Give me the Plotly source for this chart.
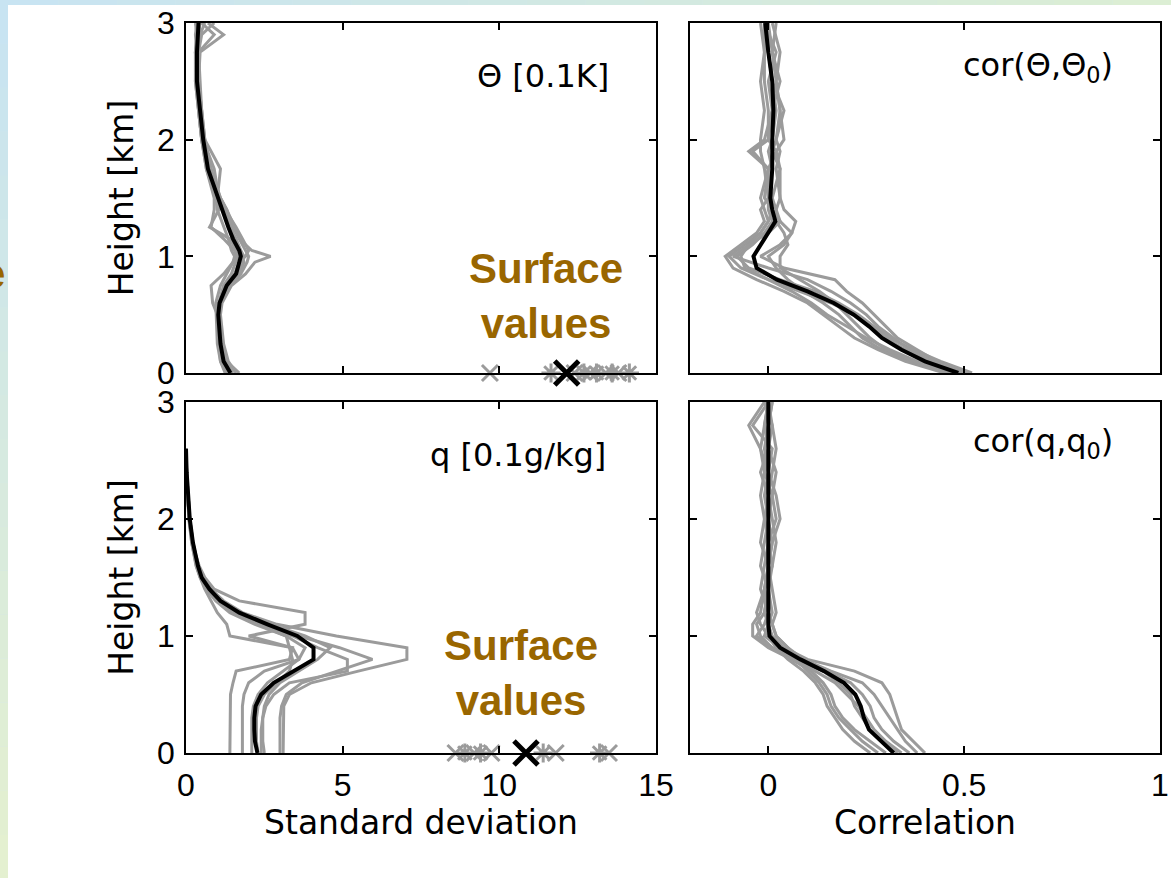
import plotly.graph_objects as go

# ---------------- data ----------------
# Theta standard deviation profiles [0.1 K]
h_th = [0, 0.1, 0.25, 0.5, 0.6, 0.75, 0.85, 0.95, 1.0, 1.05, 1.15, 1.25, 1.4, 1.5, 1.75, 2.0, 2.25, 2.5, 2.75, 2.9, 3.0]
th_mean = [1.42, 1.2, 1.1, 1.03, 1.07, 1.3, 1.6, 1.72, 1.75, 1.7, 1.5, 1.35, 1.15, 1.0, 0.7, 0.55, 0.45, 0.35, 0.35, 0.38, 0.4]
th_members = [
    [1.6, 1.35, 1.2, 1.1, 1.15, 1.45, 1.9, 2.2, 2.7, 2.1, 1.7, 1.5, 1.3, 1.1, 0.8, 0.6, 0.5, 0.45, 0.4, 0.9, 0.5],
    [1.3, 1.1, 1.0, 0.95, 0.95, 1.1, 1.3, 1.5, 1.6, 1.55, 1.2, 0.8, 0.9, 0.9, 0.65, 0.5, 0.4, 0.3, 0.3, 0.35, 0.35],
    [1.5, 1.25, 1.15, 1.05, 1.1, 1.4, 1.75, 1.95, 2.0, 1.9, 1.7, 1.55, 1.3, 1.1, 0.75, 0.6, 0.5, 0.4, 0.45, 1.2, 0.7],
    [1.25, 1.1, 1.05, 1.0, 0.85, 0.8, 1.2, 1.5, 1.55, 1.45, 1.35, 1.2, 1.0, 0.95, 0.8, 0.55, 0.45, 0.35, 0.3, 0.35, 0.3],
    [1.45, 1.25, 1.1, 1.05, 1.1, 1.35, 1.7, 1.85, 1.8, 1.7, 1.55, 1.45, 1.25, 1.05, 0.7, 0.5, 0.4, 0.3, 0.35, 0.3, 0.35],
    [1.35, 1.15, 1.05, 1.0, 1.05, 1.25, 1.55, 1.7, 1.9, 2.0, 1.8, 1.6, 1.25, 1.0, 1.1, 0.6, 0.45, 0.35, 0.4, 0.5, 0.9],
    [1.7, 1.3, 1.15, 1.05, 1.05, 1.2, 1.45, 1.6, 1.65, 1.6, 1.4, 0.75, 1.05, 0.95, 0.65, 0.5, 0.4, 0.35, 0.3, 0.4, 0.45],
    [1.4, 1.2, 1.1, 1.02, 1.08, 1.3, 1.65, 1.8, 1.85, 1.75, 1.6, 1.4, 1.2, 1.05, 0.9, 0.55, 0.5, 0.4, 0.35, 0.45, 0.6],
]
th_surf_members = [9.7, 11.65, 12.4, 12.7, 12.9, 13.1, 13.4, 13.6, 13.8, 14.15]
th_surf_mean = [12.15]

# q standard deviation profiles [0.1 g/kg]
h_q = [0, 0.1, 0.2, 0.3, 0.4, 0.5, 0.6, 0.7, 0.8, 0.9, 1.0, 1.1, 1.2, 1.3, 1.4, 1.5, 1.6, 1.7, 1.8, 2.0, 2.2, 2.4, 2.6]
q_mean = [2.28, 2.2, 2.18, 2.18, 2.22, 2.4, 2.8, 3.45, 4.07, 4.07, 3.55, 2.6, 1.7, 1.1, 0.75, 0.5, 0.38, 0.3, 0.22, 0.12, 0.06, 0.02, 0.0]
q_members = [
    [3.1, 3.1, 3.1, 3.1, 3.12, 3.3, 4.0, 5.5, 7.05, 7.05, 4.8, 2.9, 1.8, 1.2, 0.8, 0.55, 0.4, 0.3, 0.22, 0.12, 0.06, 0.02, 0.0],
    [3.0, 3.0, 3.0, 3.0, 3.05, 3.2, 3.7, 4.8, 5.95, 4.9, 3.6, 2.5, 1.6, 1.05, 0.7, 0.5, 0.38, 0.28, 0.2, 0.1, 0.05, 0.02, 0.0],
    [2.4, 2.4, 2.4, 2.45, 2.55, 2.8, 3.3, 5.15, 5.15, 4.2, 3.4, 2.4, 1.5, 1.0, 0.7, 0.5, 0.35, 0.28, 0.2, 0.1, 0.05, 0.02, 0.0],
    [1.4, 1.4, 1.4, 1.4, 1.4, 1.42, 1.5, 1.6, 3.3, 3.4, 1.4, 1.3, 1.0, 0.8, 0.6, 0.45, 0.32, 0.25, 0.18, 0.1, 0.05, 0.02, 0.0],
    [1.8, 1.8, 1.8, 1.8, 1.8, 1.85, 2.0, 2.5, 3.6, 3.8, 3.2, 2.3, 1.5, 1.0, 0.7, 0.5, 0.35, 0.27, 0.2, 0.1, 0.05, 0.02, 0.0],
    [2.1, 2.1, 2.1, 2.1, 2.15, 2.3, 2.6, 3.1, 3.6, 3.4, 2.0, 3.8, 3.8, 1.7, 0.9, 0.6, 0.42, 0.3, 0.22, 0.12, 0.06, 0.02, 0.0],
    [2.5, 2.45, 2.45, 2.45, 2.5, 2.65, 3.0, 3.6, 4.2, 4.6, 3.8, 2.7, 1.75, 1.15, 0.8, 0.55, 0.4, 0.3, 0.22, 0.12, 0.06, 0.02, 0.0],
    [2.3, 2.25, 2.25, 2.25, 2.3, 2.5, 2.9, 3.3, 3.4, 3.3, 3.2, 2.2, 1.4, 0.95, 0.65, 0.45, 0.33, 0.26, 0.18, 0.09, 0.04, 0.01, 0.0],
]
q_surf_members = [8.6, 8.9, 9.2, 9.4, 9.75, 11.4, 11.8, 13.2, 13.5]
q_surf_mean = [10.85]

# correlation with surface Theta
h_cth = [0, 0.1, 0.2, 0.3, 0.4, 0.5, 0.6, 0.7, 0.8, 0.9, 1.0, 1.1, 1.2, 1.3, 1.4, 1.5, 1.75, 1.9, 2.0, 2.25, 2.5, 2.75, 3.0]
cth_mean = [0.485, 0.4, 0.34, 0.29, 0.257, 0.218, 0.167, 0.1, 0.022, -0.03, -0.038, -0.02, 0.0, 0.018, 0.01, 0.005, 0.01, 0.01, 0.01, 0.013, 0.01, 0.0, -0.008]
cth_members = [
    [0.50, 0.43, 0.38, 0.33, 0.30, 0.27, 0.24, 0.20, 0.17, 0.04, -0.02, 0.03, 0.06, 0.07, 0.04, 0.03, 0.02, 0.03, 0.02, 0.03, 0.02, 0.01, 0.0],
    [0.47, 0.38, 0.31, 0.25, 0.20, 0.15, 0.11, 0.06, 0.0, -0.07, -0.10, -0.06, -0.02, 0.0, -0.01, -0.02, 0.0, -0.04, 0.0, 0.0, -0.01, -0.01, -0.02],
    [0.52, 0.44, 0.37, 0.31, 0.27, 0.23, 0.18, 0.12, 0.03, -0.05, -0.08, -0.04, -0.01, 0.01, 0.0, 0.0, 0.01, 0.0, 0.01, 0.02, 0.01, 0.0, -0.01],
    [0.46, 0.36, 0.29, 0.24, 0.21, 0.18, 0.14, 0.09, 0.05, 0.02, 0.0, 0.04, 0.06, 0.03, 0.02, 0.01, 0.03, 0.02, 0.04, 0.03, 0.02, 0.03, 0.01],
    [0.49, 0.41, 0.35, 0.30, 0.26, 0.22, 0.16, 0.08, 0.0, -0.06, -0.07, -0.05, -0.02, 0.0, 0.01, -0.01, 0.0, -0.05, -0.01, 0.01, 0.0, 0.02, -0.01],
    [0.48, 0.37, 0.30, 0.26, 0.23, 0.20, 0.17, 0.13, 0.08, 0.03, 0.03, 0.05, 0.04, 0.02, 0.02, 0.03, 0.03, 0.01, 0.02, 0.04, 0.01, 0.0, 0.0],
    [0.51, 0.42, 0.36, 0.32, 0.28, 0.25, 0.21, 0.16, 0.10, 0.0, -0.09, -0.05, 0.0, 0.03, 0.01, 0.0, 0.0, 0.02, 0.0, 0.01, 0.03, 0.01, 0.02],
    [0.45, 0.35, 0.28, 0.22, 0.18, 0.14, 0.10, 0.04, -0.03, -0.09, -0.11, -0.07, -0.03, -0.01, -0.02, 0.0, -0.01, -0.02, -0.02, -0.01, -0.02, -0.01, -0.01],
]

# correlation with surface q
h_cq = [0, 0.1, 0.2, 0.3, 0.4, 0.5, 0.6, 0.7, 0.8, 0.9, 1.0, 1.1, 1.2, 1.4, 1.6, 1.8, 2.0, 2.2, 2.4, 2.6, 2.8, 3.0]
cq_mean = [0.32, 0.287, 0.257, 0.244, 0.236, 0.222, 0.193, 0.142, 0.082, 0.03, 0.003, 0.0, 0.0, 0.0, 0.002, 0.0, 0.0, 0.0, 0.002, 0.0, 0.0, 0.0]
cq_members = [
    [0.40, 0.37, 0.34, 0.33, 0.32, 0.31, 0.29, 0.22, 0.10, 0.04, 0.01, 0.0, 0.01, 0.0, 0.01, 0.02, 0.01, 0.0, 0.01, 0.02, 0.01, 0.0],
    [0.38, 0.35, 0.33, 0.31, 0.29, 0.27, 0.24, 0.16, 0.09, 0.05, 0.02, 0.01, 0.0, -0.01, 0.0, 0.01, 0.03, 0.02, 0.0, -0.01, 0.0, 0.01],
    [0.30, 0.26, 0.22, 0.19, 0.17, 0.16, 0.14, 0.11, 0.06, 0.01, -0.02, -0.03, -0.01, 0.0, -0.02, -0.01, 0.0, 0.01, -0.01, -0.02, -0.05, -0.01],
    [0.34, 0.30, 0.27, 0.25, 0.23, 0.20, 0.17, 0.12, 0.06, 0.0, -0.04, -0.04, -0.02, -0.01, 0.0, -0.02, -0.01, 0.0, 0.0, -0.02, -0.01, 0.0],
    [0.28, 0.24, 0.21, 0.18, 0.16, 0.15, 0.13, 0.10, 0.07, 0.05, 0.02, 0.01, 0.02, 0.01, 0.0, 0.0, 0.02, 0.01, 0.02, 0.0, 0.01, -0.01],
    [0.36, 0.32, 0.29, 0.27, 0.26, 0.24, 0.21, 0.15, 0.08, 0.01, -0.03, -0.01, 0.0, -0.02, -0.01, 0.0, -0.01, -0.02, -0.01, 0.0, -0.01, 0.0],
    [0.26, 0.22, 0.19, 0.17, 0.15, 0.14, 0.12, 0.09, 0.05, 0.02, 0.0, -0.02, -0.03, -0.01, 0.01, 0.0, 0.0, -0.01, 0.0, 0.01, -0.04, 0.0],
    [0.33, 0.29, 0.26, 0.24, 0.22, 0.21, 0.18, 0.14, 0.07, 0.03, -0.01, 0.0, -0.01, 0.0, 0.0, 0.01, 0.0, 0.0, -0.02, 0.0, 0.0, 0.01],
]

y_ticks = [0, 1, 2, 3]
sd_ticks = [0, 5, 10, 15]
cor_ticks = [0, 0.5, 1]
cor_tick_text = ["0", "0.5", "1"]

# ---------------- figure ----------------
W, H = 1171, 878
GRAY = "#9b9b9b"
BROWN = "#996600"
FONT = "Liberation Sans, Arial, sans-serif"
FONT_M = "DejaVu Sans, Liberation Sans, sans-serif"

fig = go.Figure()

def add_profiles(members, mean, heights, xa, ya):
    for m in members:
        fig.add_trace(go.Scatter(x=m, y=heights, mode="lines", xaxis=xa, yaxis=ya,
                                 line=dict(color=GRAY, width=3), showlegend=False, hoverinfo="skip"))
    fig.add_trace(go.Scatter(x=mean, y=heights, mode="lines", xaxis=xa, yaxis=ya,
                             line=dict(color="black", width=4), showlegend=False))

def add_surface(members, mean, xa, ya):
    syms = ["x-thin" if i % 2 == 0 else "asterisk" for i in range(len(members))]
    fig.add_trace(go.Scatter(x=members, y=[0] * len(members), mode="markers", xaxis=xa, yaxis=ya,
                             cliponaxis=False, showlegend=False,
                             marker=dict(symbol=syms, size=16, color=GRAY, line=dict(color=GRAY, width=3))))
    fig.add_trace(go.Scatter(x=mean, y=[0] * len(mean), mode="markers", xaxis=xa, yaxis=ya,
                             cliponaxis=False, showlegend=False,
                             marker=dict(symbol="x-thin", size=24, color="black", line=dict(color="black", width=5))))

add_profiles(th_members, th_mean, h_th, "x", "y")
add_surface(th_surf_members, th_surf_mean, "x", "y")
add_profiles(cth_members, cth_mean, h_cth, "x2", "y2")
add_profiles(q_members, q_mean, h_q, "x3", "y3")
add_surface(q_surf_members, q_surf_mean, "x3", "y3")
add_profiles(cq_members, cq_mean, h_cq, "x4", "y4")

def px_x(p):
    return p / W

def px_y(p):
    return 1 - p / H

left_dom = [px_x(186), px_x(656)]
right_dom = [px_x(690), px_x(1160)]
top_dom = [px_y(373), px_y(23)]
bot_dom = [px_y(753), px_y(402)]

axis_common = dict(showline=True, linecolor="black", linewidth=1.5, mirror="ticks",
                   ticks="inside", ticklen=7, tickwidth=1.5, tickcolor="black", automargin=False,
                   showgrid=False, zeroline=False, tickfont=dict(size=32, color="black", family=FONT))
xaxis_common = dict(axis_common, ticklabelstandoff=3)
yaxis_common = dict(axis_common, ticklabelstandoff=3)

title_font = dict(size=33, color="black", family=FONT_M)

fig.update_layout(
    template="none",
    width=W, height=H,
    margin=dict(l=0, r=0, t=0, b=0, pad=0, autoexpand=False),
    paper_bgcolor="#d2e7ee",
    plot_bgcolor="white",
    font=dict(family=FONT, color="black"),
    xaxis=dict(xaxis_common, domain=left_dom, range=[0, 15], tickvals=sd_ticks, showticklabels=False, anchor="y"),
    yaxis=dict(yaxis_common, domain=top_dom, range=[0, 3], tickvals=y_ticks, anchor="x",
               title=dict(text="Height [km]", font=title_font, standoff=14)),
    xaxis2=dict(xaxis_common, domain=right_dom, range=[-0.2, 1], tickvals=cor_ticks, showticklabels=False, anchor="y2"),
    yaxis2=dict(yaxis_common, domain=top_dom, range=[0, 3], tickvals=y_ticks, showticklabels=False, anchor="x2"),
    xaxis3=dict(xaxis_common, domain=left_dom, range=[0, 15], tickvals=sd_ticks, anchor="y3",
                title=dict(text="Standard deviation", font=title_font, standoff=3)),
    yaxis3=dict(yaxis_common, domain=bot_dom, range=[0, 3], tickvals=y_ticks, anchor="x3",
                title=dict(text="Height [km]", font=title_font, standoff=14)),
    xaxis4=dict(xaxis_common, domain=right_dom, range=[-0.2, 1], tickvals=cor_ticks, ticktext=cor_tick_text,
                anchor="y4", title=dict(text="Correlation", font=title_font, standoff=3)),
    yaxis4=dict(yaxis_common, domain=bot_dom, range=[0, 3], tickvals=y_ticks, showticklabels=False, anchor="x4"),
)

# slide background: soft gradient strips and white page
shapes = []
n = 20
for i in range(n):
    t = i / (n - 1)
    r = int(200 + t * 28); g = int(228 + t * 12); b = int(242 - t * 34)
    shapes.append(dict(type="rect", xref="paper", yref="paper", layer="below",
                       x0=0, x1=px_x(8), y0=1 - (i + 1) / n, y1=1 - i / n,
                       fillcolor=f"rgb({r},{g},{b})", line=dict(width=0)))
for i in range(n):
    t = i / (n - 1)
    r = int(200 + t * 20); g = int(228 + t * 10); b = int(242 - t * 30)
    shapes.append(dict(type="rect", xref="paper", yref="paper", layer="below",
                       x0=i / n, x1=(i + 1) / n, y0=px_y(5), y1=1,
                       fillcolor=f"rgb({r},{g},{b})", line=dict(width=0)))
shapes.append(dict(type="rect", xref="paper", yref="paper", layer="below",
                   x0=px_x(8), x1=1, y0=0, y1=px_y(5), fillcolor="white", line=dict(width=0)))
fig.update_layout(shapes=shapes)

ann_font = dict(size=32, color="black", family=FONT_M)
surf_font = dict(size=42, color=BROWN, family=FONT)
fig.add_annotation(x=11.4, y=2.55, xref="x", yref="y", text="Θ [0.1K]", showarrow=False, font=ann_font)
fig.add_annotation(x=0.885, y=2.62, xref="x2", yref="y2", xanchor="right", text="cor(Θ,Θ<sub>0</sub>)",
                   showarrow=False, font=ann_font)
fig.add_annotation(x=10.6, y=2.55, xref="x3", yref="y3", text="q [0.1g/kg]", showarrow=False, font=ann_font)
fig.add_annotation(x=0.885, y=2.65, xref="x4", yref="y4", xanchor="right", text="cor(q,q<sub>0</sub>)",
                   showarrow=False, font=ann_font)
fig.add_annotation(x=11.5, y=0.66, xref="x", yref="y", text="<b>Surface<br>values</b>", showarrow=False,
                   font=surf_font)
fig.add_annotation(x=10.7, y=0.68, xref="x3", yref="y3", text="<b>Surface<br>values</b>", showarrow=False,
                   font=surf_font)
# edge of a slide word cut off at the left border
fig.add_annotation(x=px_x(7), y=px_y(248), xref="paper", yref="paper", xanchor="right", text="<b>e</b>",
                   showarrow=False, font=surf_font)

fig.write_html("out.html", config={"displayModeBar": False},
               post_script="document.body.style.margin='0px';")
